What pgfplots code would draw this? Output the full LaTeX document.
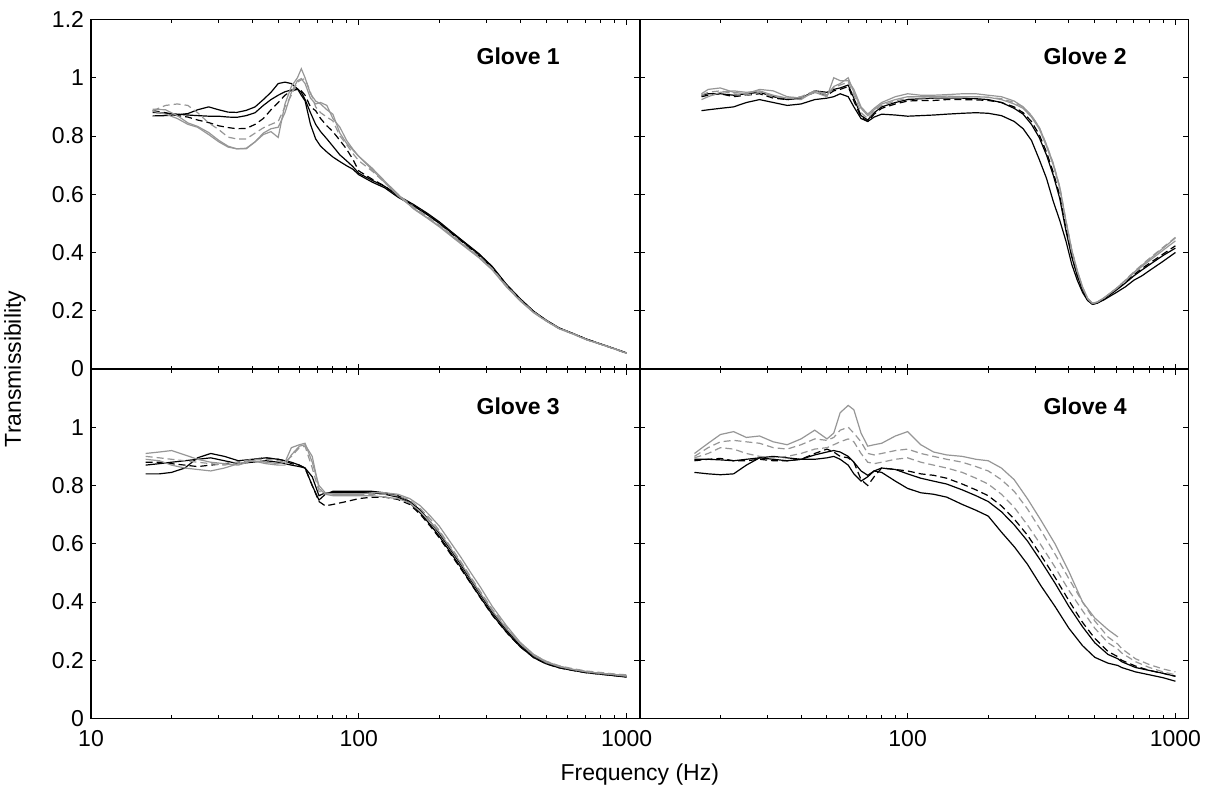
\documentclass[border=0pt]{standalone}
\usepackage{fontspec}
\setmainfont{Liberation Sans}
\usepackage{pgfplots}
\usepackage{pgfplotstable}
\pgfplotsset{compat=1.18}
\usepgfplotslibrary{groupplots}
\definecolor{gr}{RGB}{150,150,150}

\pgfplotstableread{
f A B C D E G
17 0.869 0.881 0.887 0.892 0.885 0.887
19 0.87 0.878 0.88 0.89 0.875 0.905
21 0.873 0.875 0.87 0.87 0.86 0.91
23 0.877 0.872 0.865 0.845 0.84 0.905
25 0.89 0.87 0.855 0.833 0.83 0.88
27.5 0.9 0.868 0.846 0.812 0.805 0.845
30 0.89 0.868 0.835 0.785 0.78 0.822
32.5 0.882 0.865 0.829 0.765 0.762 0.796
35 0.881 0.864 0.825 0.756 0.756 0.79
38 0.888 0.87 0.826 0.756 0.758 0.79
41 0.9 0.88 0.84 0.78 0.78 0.81
44 0.925 0.905 0.86 0.805 0.81 0.828
47 0.95 0.925 0.89 0.815 0.825 0.84
50 0.98 0.94 0.915 0.795 0.83 0.85
53 0.985 0.952 0.94 0.91 0.88 0.9
56 0.98 0.958 0.955 0.97 0.95 0.94
59 0.962 0.962 0.96 1.0 0.99 0.985
61 0.94 0.95 0.955 1.031 0.997 0.993
63 0.921 0.925 0.94 1.0 0.98 0.997
66 0.84 0.88 0.9 0.945 0.93 0.95
69 0.79 0.84 0.887 0.92 0.91 0.9
72 0.765 0.815 0.86 0.91 0.915 0.88
76 0.745 0.79 0.835 0.89 0.905 0.865
80 0.728 0.765 0.815 0.875 0.86 0.852
85 0.712 0.735 0.785 0.81 0.83 0.8
90 0.698 0.715 0.755 0.775 0.785 0.771
95 0.686 0.695 0.72 0.752 0.755 0.74
100 0.667 0.672 0.68 0.73 0.73 0.715
112 0.642 0.648 0.652 0.69 0.685 0.68
125 0.622 0.627 0.628 0.645 0.64 0.64
140 0.59 0.595 0.595 0.6 0.595 0.6
160 0.56 0.565 0.562 0.55 0.552 0.556
180 0.53 0.535 0.532 0.518 0.52 0.524
200 0.5 0.505 0.5 0.488 0.49 0.494
224 0.465 0.468 0.462 0.452 0.455 0.458
250 0.43 0.433 0.428 0.418 0.42 0.423
280 0.395 0.397 0.39 0.383 0.385 0.388
315 0.35 0.352 0.347 0.34 0.342 0.345
355 0.29 0.292 0.288 0.283 0.285 0.288
400 0.24 0.242 0.238 0.234 0.236 0.238
450 0.197 0.198 0.195 0.193 0.194 0.196
500 0.168 0.168 0.166 0.165 0.166 0.167
560 0.14 0.141 0.139 0.138 0.139 0.14
630 0.122 0.122 0.121 0.12 0.121 0.122
710 0.102 0.102 0.101 0.1 0.1 0.101
800 0.086 0.086 0.085 0.085 0.085 0.086
900 0.07 0.07 0.069 0.069 0.069 0.07
1000 0.055 0.055 0.054 0.054 0.054 0.055
}\tA

\pgfplotstableread{
f A B C D E G
17 0.887 0.94 0.935 0.925 0.945 0.94
18 0.89 0.945 0.94 0.935 0.96 0.95
20 0.895 0.945 0.945 0.95 0.965 0.955
22.4 0.9 0.94 0.935 0.955 0.95 0.945
25 0.915 0.945 0.94 0.95 0.945 0.94
28 0.925 0.95 0.945 0.955 0.96 0.95
31.5 0.915 0.935 0.93 0.94 0.955 0.935
35.5 0.905 0.925 0.925 0.93 0.935 0.93
40 0.91 0.93 0.93 0.925 0.93 0.935
45 0.925 0.955 0.95 0.955 0.95 0.955
50 0.93 0.95 0.94 0.94 0.935 0.945
53 0.935 0.96 0.955 0.97 1.0 0.965
56 0.945 0.965 0.96 0.98 0.99 0.975
60 0.935 0.975 0.97 1.0 0.99 0.985
63 0.9 0.93 0.92 0.95 0.96 0.94
67 0.86 0.87 0.865 0.895 0.9 0.88
71 0.85 0.855 0.85 0.87 0.875 0.86
75 0.865 0.88 0.875 0.89 0.895 0.885
80 0.875 0.9 0.895 0.91 0.915 0.905
90 0.872 0.915 0.91 0.925 0.935 0.92
100 0.868 0.925 0.92 0.935 0.945 0.93
112 0.87 0.928 0.922 0.935 0.94 0.93
125 0.872 0.93 0.922 0.935 0.94 0.932
140 0.875 0.93 0.925 0.937 0.942 0.933
160 0.878 0.93 0.925 0.935 0.945 0.935
180 0.88 0.928 0.924 0.935 0.945 0.935
200 0.878 0.925 0.922 0.933 0.94 0.933
224 0.87 0.915 0.915 0.925 0.935 0.928
250 0.85 0.895 0.9 0.91 0.92 0.915
270 0.825 0.875 0.88 0.895 0.9 0.9
290 0.785 0.84 0.85 0.865 0.87 0.87
310 0.72 0.795 0.805 0.825 0.83 0.83
330 0.655 0.735 0.745 0.765 0.77 0.77
350 0.575 0.665 0.675 0.7 0.705 0.705
370 0.51 0.585 0.595 0.62 0.625 0.625
390 0.44 0.475 0.485 0.505 0.51 0.51
410 0.36 0.385 0.39 0.405 0.41 0.41
430 0.305 0.32 0.322 0.335 0.338 0.336
450 0.263 0.272 0.273 0.28 0.282 0.28
470 0.235 0.237 0.238 0.242 0.243 0.242
490 0.223 0.222 0.223 0.225 0.226 0.225
510 0.226 0.226 0.227 0.229 0.23 0.229
540 0.237 0.24 0.241 0.243 0.244 0.243
570 0.25 0.255 0.257 0.26 0.26 0.26
600 0.262 0.27 0.272 0.276 0.275 0.276
650 0.282 0.295 0.298 0.304 0.302 0.305
700 0.305 0.32 0.324 0.332 0.33 0.334
750 0.32 0.34 0.345 0.356 0.352 0.358
800 0.338 0.358 0.363 0.377 0.372 0.38
900 0.37 0.39 0.395 0.415 0.408 0.418
1000 0.4 0.415 0.423 0.45 0.44 0.452
}\tB

\pgfplotstableread{
f A B C D E G
16 0.84 0.87 0.88 0.91 0.89 0.9
18 0.84 0.875 0.88 0.915 0.885 0.895
20 0.845 0.88 0.875 0.92 0.87 0.89
22.4 0.86 0.885 0.87 0.905 0.86 0.885
25 0.895 0.89 0.865 0.89 0.855 0.88
28 0.91 0.895 0.87 0.88 0.85 0.875
31.5 0.9 0.885 0.875 0.875 0.86 0.87
35.5 0.885 0.875 0.88 0.87 0.875 0.88
40 0.89 0.88 0.89 0.885 0.885 0.89
45 0.895 0.885 0.895 0.88 0.875 0.89
50 0.89 0.88 0.89 0.875 0.87 0.885
53 0.885 0.875 0.885 0.88 0.87 0.88
56 0.88 0.87 0.875 0.93 0.905 0.9
60 0.87 0.865 0.87 0.94 0.935 0.93
63 0.86 0.86 0.86 0.945 0.94 0.935
67 0.8 0.83 0.8 0.88 0.9 0.86
71 0.75 0.765 0.745 0.8 0.79 0.78
75 0.77 0.775 0.73 0.775 0.77 0.775
80 0.78 0.775 0.735 0.77 0.765 0.77
90 0.78 0.775 0.745 0.77 0.765 0.77
100 0.78 0.775 0.755 0.77 0.765 0.77
112 0.78 0.775 0.76 0.775 0.765 0.77
125 0.775 0.77 0.76 0.775 0.76 0.77
140 0.765 0.76 0.752 0.77 0.755 0.765
155 0.745 0.74 0.735 0.755 0.74 0.75
170 0.715 0.705 0.7 0.73 0.71 0.72
185 0.675 0.665 0.66 0.695 0.675 0.685
200 0.635 0.625 0.62 0.66 0.64 0.645
220 0.58 0.57 0.565 0.605 0.585 0.59
240 0.53 0.52 0.515 0.555 0.535 0.54
260 0.48 0.47 0.468 0.505 0.485 0.49
285 0.425 0.415 0.413 0.45 0.43 0.435
315 0.365 0.357 0.355 0.385 0.37 0.375
355 0.305 0.298 0.297 0.32 0.31 0.315
400 0.252 0.247 0.247 0.262 0.257 0.26
450 0.214 0.209 0.209 0.22 0.216 0.219
500 0.192 0.188 0.188 0.196 0.193 0.197
560 0.178 0.174 0.174 0.18 0.178 0.181
630 0.168 0.165 0.165 0.169 0.168 0.171
710 0.16 0.157 0.157 0.161 0.16 0.163
800 0.155 0.152 0.152 0.155 0.155 0.158
900 0.15 0.147 0.147 0.15 0.151 0.153
1000 0.145 0.142 0.143 0.145 0.147 0.15
}\tC

\pgfplotstableread{
f A B C D E G
16 0.845 0.89 0.885 0.91 0.9 0.895
18 0.84 0.89 0.89 0.945 0.93 0.91
20 0.837 0.888 0.893 0.975 0.95 0.93
22.4 0.84 0.885 0.885 0.985 0.955 0.925
25 0.87 0.89 0.885 0.965 0.95 0.91
28 0.895 0.895 0.89 0.97 0.945 0.9
31.5 0.9 0.89 0.885 0.95 0.93 0.895
35.5 0.895 0.885 0.885 0.94 0.925 0.9
40 0.89 0.89 0.89 0.96 0.94 0.91
45 0.89 0.905 0.91 0.99 0.96 0.925
50 0.895 0.915 0.925 0.96 0.955 0.93
53 0.9 0.92 0.915 0.98 0.965 0.94
56 0.89 0.915 0.9 1.05 0.99 0.95
60 0.87 0.9 0.895 1.075 1.0 0.96
63 0.84 0.88 0.88 1.06 0.98 0.95
67 0.815 0.85 0.82 0.98 0.95 0.91
71 0.83 0.835 0.8 0.935 0.91 0.88
75 0.85 0.85 0.83 0.94 0.905 0.875
80 0.845 0.86 0.86 0.945 0.91 0.88
90 0.815 0.855 0.855 0.97 0.92 0.89
100 0.79 0.84 0.85 0.985 0.925 0.895
112 0.775 0.825 0.84 0.94 0.91 0.88
125 0.77 0.815 0.835 0.915 0.9 0.87
140 0.76 0.805 0.825 0.905 0.89 0.86
160 0.735 0.785 0.805 0.9 0.88 0.845
180 0.715 0.765 0.785 0.89 0.865 0.825
200 0.695 0.745 0.765 0.885 0.85 0.805
224 0.64 0.71 0.73 0.86 0.82 0.77
250 0.59 0.665 0.685 0.82 0.78 0.725
280 0.53 0.61 0.63 0.755 0.72 0.665
315 0.455 0.54 0.56 0.68 0.645 0.595
355 0.385 0.465 0.485 0.6 0.565 0.52
400 0.31 0.385 0.405 0.505 0.48 0.44
450 0.25 0.315 0.33 0.4 0.4 0.37
500 0.21 0.26 0.275 0.345 0.335 0.31
560 0.19 0.22 0.23 0.305 0.28 0.26
610 0.182 0.205 0.212 0.28 0.255 0.238
630 0.175 0.195 0.2 nan 0.24 0.225
710 0.16 0.175 0.18 nan 0.205 0.195
800 0.15 0.165 0.165 nan 0.185 0.175
900 0.14 0.155 0.155 nan 0.17 0.16
1000 0.128 0.145 0.145 nan 0.16 0.15
}\tD

\tikzset{glove/.style={anchor=east, font=\fontsize{11.5bp}{13.8bp}\selectfont\bfseries}}

\begin{document}
\begin{tikzpicture}[font=\fontsize{11.5bp}{13.8bp}\selectfont]
\pgfplotsset{
  blk/.style={black, line width=0.6bp},
  blkd/.style={black, line width=0.6bp, dash pattern=on 3.5bp off 2bp},
  gry/.style={gr, line width=0.6bp},
  gryd/.style={gr, line width=0.6bp, dash pattern=on 3.5bp off 2bp},
}
\begin{groupplot}[
  group style={group size=2 by 2, horizontal sep=0pt, vertical sep=0pt,
    x descriptions at=edge bottom, y descriptions at=edge left},
  width=274.4bp, height=174.75bp, scale only axis,
  xmode=log, xmin=10, xmax=1120, ymin=0, ymax=1.2,
  xtick={10,100,1000},
  minor xtick={20,30,40,50,60,70,80,90,200,300,400,500,600,700,800,900},
  ytick={0,0.2,0.4,0.6,0.8,1,1.2},
  xticklabels={10,100,1000},
  yticklabels={0,0.2,0.4,0.6,0.8,1,1.2},
  tick align=inside,
  major tick length=2.75bp, minor tick length=1.75bp,
  every tick/.style={black, line width=0.5bp},
  axis line style={black, line width=0.7bp},
  /pgf/number format/assume math mode=true,
  xticklabel style={yshift=-2.5bp},
  no markers,
]
\nextgroupplot
\coordinate (tl) at (rel axis cs:0,1);
\addplot[blk] table[x=f,y=A]{\tA};
\addplot[blk] table[x=f,y=B]{\tA};
\addplot[blkd] table[x=f,y=C]{\tA};
\addplot[gry] table[x=f,y=D]{\tA};
\addplot[gry] table[x=f,y=E]{\tA};
\addplot[gryd] table[x=f,y=G]{\tA};
\node[glove] at (rel axis cs:0.867,0.894) {Glove 1};

\nextgroupplot
\addplot[blk] table[x=f,y=A]{\tB};
\addplot[blk] table[x=f,y=B]{\tB};
\addplot[blkd] table[x=f,y=C]{\tB};
\addplot[gry] table[x=f,y=D]{\tB};
\addplot[gry] table[x=f,y=E]{\tB};
\addplot[gryd] table[x=f,y=G]{\tB};
\node[glove] at (rel axis cs:0.9,0.894) {Glove 2};

\nextgroupplot[yticklabels={0,0.2,0.4,0.6,0.8,1,{}}]
\coordinate (lm) at (rel axis cs:0,1);
\coordinate (bm) at (rel axis cs:1,0);
\addplot[blk] table[x=f,y=A]{\tC};
\addplot[blk] table[x=f,y=B]{\tC};
\addplot[blkd] table[x=f,y=C]{\tC};
\addplot[gry] table[x=f,y=D]{\tC};
\addplot[gry] table[x=f,y=E]{\tC};
\addplot[gryd] table[x=f,y=G]{\tC};
\node[glove] at (rel axis cs:0.867,0.894) {Glove 3};

\nextgroupplot[xticklabels={{},100,1000}]
\coordinate (br) at (rel axis cs:1,0);
\addplot[blk] table[x=f,y=A]{\tD};
\addplot[blk] table[x=f,y=B]{\tD};
\addplot[blkd] table[x=f,y=C]{\tD};
\addplot[gry] table[x=f,y=D]{\tD};
\addplot[gryd] table[x=f,y=E]{\tD};
\addplot[gryd] table[x=f,y=G]{\tD};
\node[glove] at (rel axis cs:0.9,0.894) {Glove 4};
\end{groupplot}
\node[rotate=90] at ([xshift=-38bp]lm) {Transmissibility};
\node at ([yshift=-28.25bp]bm) {Frequency (Hz)};
\pgfresetboundingbox
\useasboundingbox ([xshift=-45.5bp, yshift=9.75bp]tl) rectangle ([xshift=11.7bp, yshift=-36.75bp]br);
\end{tikzpicture}
\end{document}
